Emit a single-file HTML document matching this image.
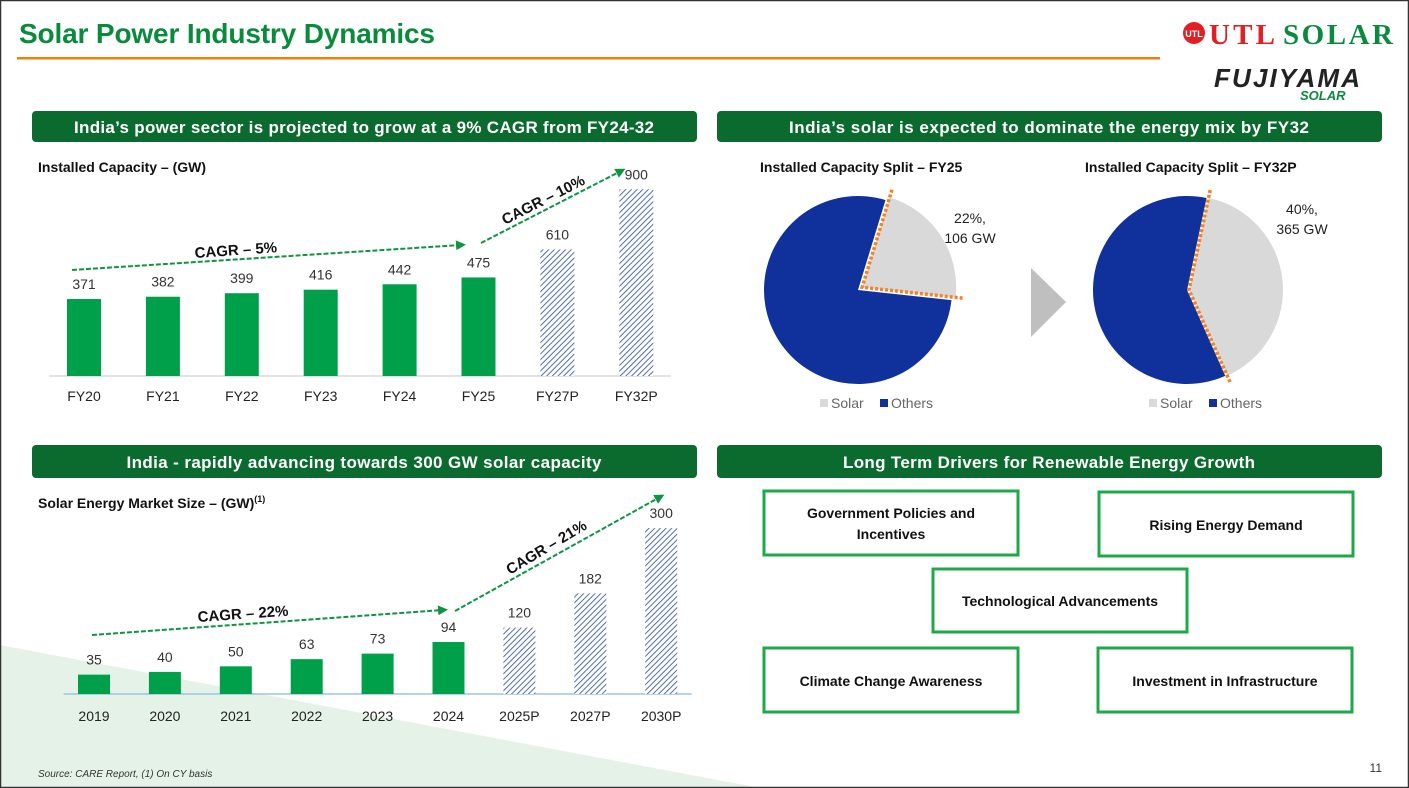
<!DOCTYPE html>
<html><head><meta charset="utf-8"><style>
html,body{margin:0;padding:0;background:#fff}
svg{display:block}
text{font-family:"Liberation Sans",sans-serif}
.serif{font-family:"Liberation Serif",serif}
</style></head><body>
<svg id="s" width="1409" height="788" viewBox="0 0 1409 788" xmlns="http://www.w3.org/2000/svg">
<defs>
<pattern id="hatch" width="4" height="4" patternUnits="userSpaceOnUse" patternTransform="rotate(45)">
<rect width="4" height="4" fill="#fff"/><line x1="0" y1="0" x2="0" y2="4" stroke="#3d5ca8" stroke-width="1.8"/>
</pattern>
<marker id="ah" viewBox="0 0 10 10" refX="5" refY="5" markerWidth="5" markerHeight="5" orient="auto"><path d="M0,0L10,5L0,10z" fill="#0f9444"/></marker>
</defs>
<rect x="0" y="0" width="1409" height="788" fill="#fff"/>
<polygon points="0,645 760,788 0,788" fill="#e4f2e7"/>
<rect x="0.5" y="0.5" width="1408" height="787" fill="none" stroke="#333" stroke-width="1.5"/>
<text x="19" y="43" font-size="28" font-weight="bold" fill="#0a8a3c" textLength="416">Solar Power Industry Dynamics</text>
<rect x="17" y="57" width="1143" height="2.5" fill="#f07f09"/>
<g>
<circle cx="1194" cy="33" r="11" fill="#e31e24"/>
<text x="1194" y="37" font-size="9" fill="#fff" text-anchor="middle" font-weight="bold">UTL</text>
<text x="1209" y="44" font-size="29" font-weight="bold" fill="#e31e24" class="serif" textLength="66">UTL</text>
<text x="1283" y="44" font-size="29" font-weight="bold" fill="#0a8a3c" class="serif" textLength="110">SOLAR</text>
<text x="1214" y="87" font-size="26" font-weight="bold" font-style="italic" fill="#222" textLength="146">FUJIYAMA</text>
<text x="1300" y="100" font-size="13" font-weight="bold" font-style="italic" fill="#0a8a3c">SOLAR</text>
</g>
<g><rect x="32" y="111" width="665" height="31" rx="4" fill="#0b6a2e"/><text x="364" y="133" font-size="17" font-weight="bold" fill="#fff" text-anchor="middle" textLength="580">India’s power sector is projected to grow at a 9% CAGR from FY24-32</text></g>
<g><rect x="717" y="111" width="665" height="31" rx="4" fill="#0b6a2e"/><text x="1049" y="133" font-size="17" font-weight="bold" fill="#fff" text-anchor="middle" textLength="520">India’s solar is expected to dominate the energy mix by FY32</text></g>
<g><rect x="32" y="445" width="665" height="33" rx="4" fill="#0b6a2e"/><text x="364" y="468" font-size="17" font-weight="bold" fill="#fff" text-anchor="middle" textLength="475">India - rapidly advancing towards 300 GW solar capacity</text></g>
<g><rect x="717" y="445" width="665" height="33" rx="4" fill="#0b6a2e"/><text x="1049" y="468" font-size="17" font-weight="bold" fill="#fff" text-anchor="middle" textLength="412">Long Term Drivers for Renewable Energy Growth</text></g>
<text x="38" y="172" font-size="14" font-weight="bold" fill="#111">Installed Capacity – (GW)</text>
<text x="38" y="508" font-size="14" font-weight="bold" fill="#111">Solar Energy Market Size – (GW)<tspan font-size="9" dy="-6">(1)</tspan></text>
<g id="c1"></g>
<g id="c2"></g>
<g stroke="#0f9444" stroke-width="2" stroke-dasharray="5,2" fill="none">
<line x1="72" y1="270" x2="461" y2="245" marker-end="url(#ah)"/>
<line x1="481" y1="243" x2="621" y2="171" marker-end="url(#ah)"/>
<line x1="92" y1="635" x2="443" y2="610" marker-end="url(#ah)"/>
<line x1="455" y1="611" x2="660" y2="497" marker-end="url(#ah)"/>
</g>
<g font-size="15" font-weight="bold" fill="#111">
<text transform="translate(195,258) rotate(-4)">CAGR – 5%</text>
<text transform="translate(505,225) rotate(-27)">CAGR – 10%</text>
<text transform="translate(198,622) rotate(-4)">CAGR – 22%</text>
<text transform="translate(510,575) rotate(-31)">CAGR – 21%</text>
</g>
<text x="760" y="172" font-size="14" font-weight="bold" fill="#111">Installed Capacity Split – FY25</text>
<text x="1085" y="172" font-size="14" font-weight="bold" fill="#111">Installed Capacity Split – FY32P</text>
<g id="pies"></g>
<polygon points="1031,268 1066,302 1031,337" fill="#bfbfbf"/>
<g font-size="14" font-weight="bold" fill="#111" text-anchor="middle">
<rect x="764" y="491" width="254" height="64" fill="#fff" stroke="#1ea84a" stroke-width="3"/><text x="891" y="518">Government Policies and</text><text x="891" y="539">Incentives</text>
<rect x="1099" y="492" width="254" height="64" fill="#fff" stroke="#1ea84a" stroke-width="3"/><text x="1226" y="530">Rising Energy Demand</text>
<rect x="933" y="569" width="254" height="63" fill="#fff" stroke="#1ea84a" stroke-width="3"/><text x="1060" y="606">Technological Advancements</text>
<rect x="764" y="648" width="254" height="64" fill="#fff" stroke="#1ea84a" stroke-width="3"/><text x="891" y="686">Climate Change Awareness</text>
<rect x="1098" y="648" width="254" height="64" fill="#fff" stroke="#1ea84a" stroke-width="3"/><text x="1225" y="686">Investment in Infrastructure</text>
</g>
<text x="38" y="777" font-size="10" font-style="italic" fill="#333">Source: CARE Report, (1) On CY basis</text>
<text x="1382" y="772" font-size="12" fill="#333" text-anchor="end">11</text>
</svg>
<script>
const NS='http://www.w3.org/2000/svg';
const c1Cats=['FY20','FY21','FY22','FY23','FY24','FY25','FY27P','FY32P'];
const c1Vals=[371,382,399,416,442,475,610,900];
const c1Proj=[false,false,false,false,false,false,true,true];
const c2Cats=['2019','2020','2021','2022','2023','2024','2025P','2027P','2030P'];
const c2Vals=[35,40,50,63,73,94,120,182,300];
const c2Proj=[false,false,false,false,false,false,true,true,true];
const pieLabels=['Solar','Others'];
const pie1Vals=[22,78];
const pie2Vals=[40,60];
const pie1Text=['22%,','106 GW'];
const pie2Text=['40%,','365 GW'];
function mk(tag,attrs,parent){const e=document.createElementNS(NS,tag);for(const k in attrs)e.setAttribute(k,attrs[k]);parent.appendChild(e);return e;}
function bars(g,cats,vals,proj,x0,step,base,scale,bw,labY,axisColor){
  mk('line',{x1:x0-step/2+5,x2:x0+step*(cats.length-1)+step/2-5,y1:base,y2:base,stroke:axisColor,'stroke-width':1.5},g);
  cats.forEach((c,i)=>{
    const cx=x0+i*step, h=vals[i]*scale;
    const r=mk('rect',{x:cx-bw/2,y:base-h,width:bw,height:h,fill:proj[i]?'url(#hatch)':'#00a04a'},g);
    
    
    const v=mk('text',{x:cx,y:base-h-10,'font-size':14,fill:'#333','text-anchor':'middle'},g);v.textContent=vals[i];
    
    
    const t=mk('text',{x:cx,y:labY,'font-size':14,fill:'#222','text-anchor':'middle'},g);t.textContent=c;
    
    
  });
}
bars(document.getElementById('c1'),c1Cats,c1Vals,c1Proj,84,78.9,376,0.2075,34,401,'#d9d9d9');
bars(document.getElementById('c2'),c2Cats,c2Vals,c2Proj,94,70.9,694,0.553,32,721,'#9dc3e6');
function pie(g,cx,cy,r,vals,startDeg,txt,tx,ty,explode){
  const tot=vals.reduce((a,b)=>a+b,0);
  let a=startDeg;const cols=['#d9d9d9','#10319b'];
  const pt=(ang,rr,ox,oy)=>[ox+rr*Math.sin(ang*Math.PI/180),oy-rr*Math.cos(ang*Math.PI/180)];
  vals.forEach((v,i)=>{
    const sw=v/tot*360,mid=a+sw/2;
    const ox=cx+(i===0?explode*Math.sin(mid*Math.PI/180):0),oy=cy-(i===0?explode*Math.cos(mid*Math.PI/180):0);
    const p1=pt(a,r,ox,oy),p2=pt(a+sw,r,ox,oy);
    const p=mk('path',{d:`M${ox},${oy}L${p1[0]},${p1[1]}A${r},${r} 0 ${sw>180?1:0} 1 ${p2[0]},${p2[1]}Z`,fill:cols[i]},g);
    
    
    if(i===0){
      const q1=pt(a,r+8,ox,oy),q2=pt(a+sw,r+8,ox,oy);
      mk('path',{d:`M${q1[0]},${q1[1]}L${ox},${oy}L${q2[0]},${q2[1]}`,fill:'none',stroke:'#f58220','stroke-width':3.5,'stroke-dasharray':'3,2'},g);
    }
    a+=sw;
  });
  txt.forEach((s,i)=>{const t=mk('text',{x:tx,y:ty+i*20,'font-size':14,fill:'#222','text-anchor':'middle'},g);t.textContent=s;
    
    });
  const lg=mk('g',{},g);
  
  
  mk('rect',{x:cx-38,y:399,width:8,height:8,fill:cols[0]},lg);
  let t=mk('text',{x:cx-27,y:408,'font-size':14,fill:'#666'},lg);t.textContent=pieLabels[0];
  mk('rect',{x:cx+22,y:399,width:8,height:8,fill:cols[1]},lg);
  t=mk('text',{x:cx+33,y:408,'font-size':14,fill:'#666'},lg);t.textContent=pieLabels[1];
}
const pg=document.getElementById('pies');
pie(pg,858,290,94,pie1Vals,17,pie1Text,970,223,5);
pie(pg,1187,290,94,pie2Vals,12,pie2Text,1302,214,2);
</script>
</body></html>
